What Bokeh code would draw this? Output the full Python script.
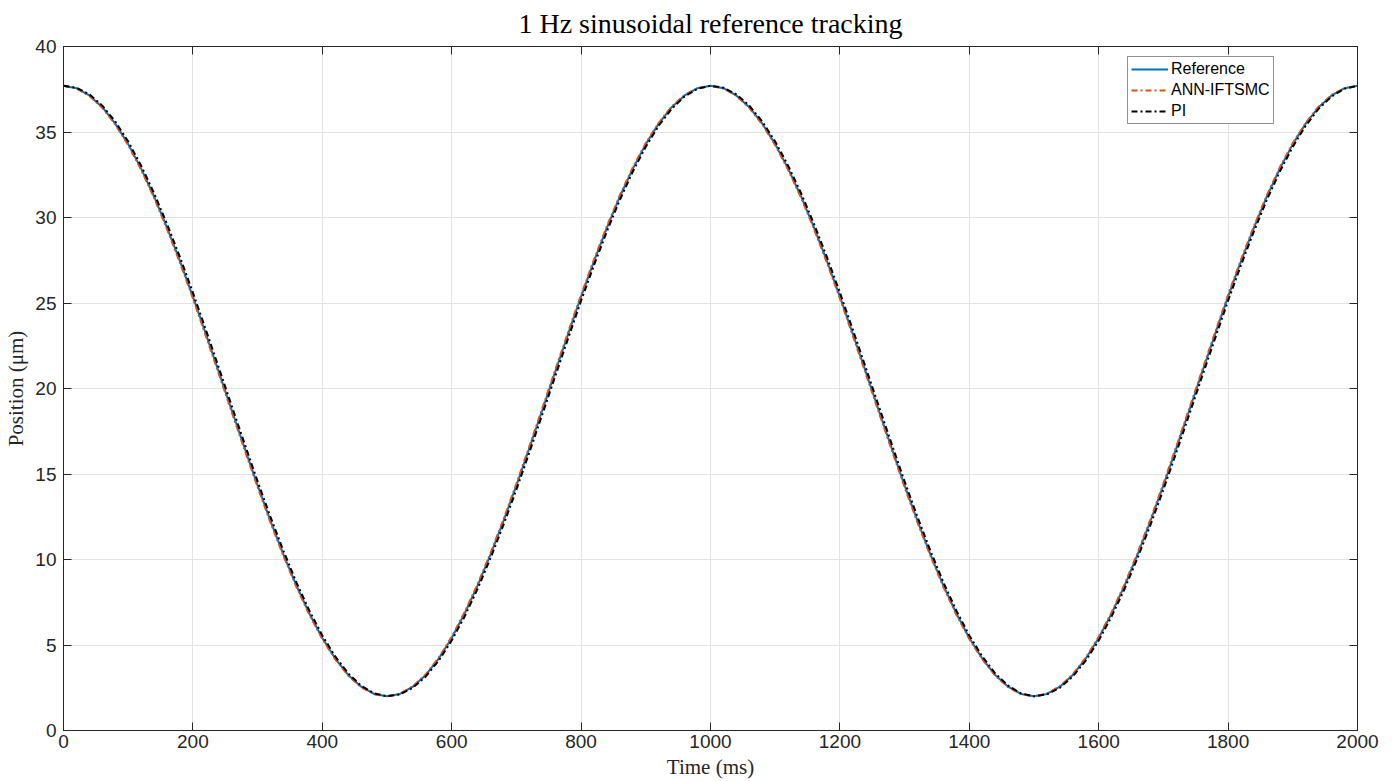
from bokeh.plotting import figure
from bokeh.models import (ColumnDataSource, Legend, LegendItem, LinearAxis,
                          SingleIntervalTicker, Range1d)
from bokeh.embed import file_html
from bokeh.resources import INLINE

# ---------------- data ----------------
time_ms = list(range(0, 2001, 20))

ref_period = [37.70, 37.56, 37.14, 36.45, 35.49, 34.29, 32.86, 31.23, 29.41, 27.45,
              25.37, 23.19, 20.97, 18.73, 16.51, 14.33, 12.25, 10.29, 8.47, 6.84,
              5.41, 4.21, 3.25, 2.56, 2.14, 2.00, 2.14, 2.56, 3.25, 4.21,
              5.41, 6.84, 8.47, 10.29, 12.25, 14.33, 16.51, 18.73, 20.97, 23.19,
              25.37, 27.45, 29.41, 31.23, 32.86, 34.29, 35.49, 36.45, 37.14, 37.56]
reference = ref_period + ref_period + [37.70]

ann_period = [37.70, 37.55, 37.11, 36.41, 35.44, 34.23, 32.79, 31.15, 29.32, 27.35,
              25.27, 23.08, 20.86, 18.62, 16.40, 14.23, 12.15, 10.20, 8.39, 6.77,
              5.35, 4.16, 3.21, 2.53, 2.13, 2.00, 2.15, 2.59, 3.29, 4.26,
              5.48, 6.92, 8.56, 10.38, 12.35, 14.44, 16.62, 18.84, 21.08, 23.30,
              25.48, 27.55, 29.50, 31.32, 32.94, 34.36, 35.54, 36.49, 37.17, 37.57]
ann_iftsmc = ann_period + ann_period + [37.70]

pi_period = [37.70, 37.59, 37.20, 36.54, 35.61, 34.44, 33.03, 31.42, 29.62, 27.68,
             25.61, 23.44, 21.22, 18.98, 16.76, 14.57, 12.48, 10.50, 8.66, 7.01,
             5.56, 4.33, 3.34, 2.62, 2.17, 2.00, 2.11, 2.50, 3.16, 4.09,
             5.26, 6.67, 8.28, 10.08, 12.02, 14.09, 16.26, 18.48, 20.72, 22.94,
             25.13, 27.22, 29.20, 31.04, 32.69, 34.14, 35.37, 36.36, 37.08, 37.53]
pi_ctrl = pi_period + pi_period + [37.70]

series_names = ["Reference", "ANN-IFTSMC", "PI"]
title_text = "1 Hz sinusoidal reference tracking"
x_label = "Time (ms)"
y_label = "Position (\u03bcm)"

# ---------------- figure ----------------
SERIF = "Liberation Serif"
SANS = "Liberation Sans"
AX = "#262626"

p = figure(width=1392, height=781, output_backend="svg", toolbar_location=None,
           x_range=Range1d(0, 2000), y_range=Range1d(0, 40),
           min_border_left=63, min_border_right=35, min_border_top=46,
           min_border_bottom=51, title=title_text)
p.title.text_font = SERIF
p.title.text_font_size = "28px"
p.title.text_font_style = "normal"
p.title.align = "center"
p.title.vertical_align = "top"
p.title.text_color = "black"
p.title.standoff = 12

p.outline_line_color = AX
p.outline_line_width = 1
p.background_fill_color = "white"
p.border_fill_color = "white"

xt = SingleIntervalTicker(interval=200, num_minor_ticks=0)
yt = SingleIntervalTicker(interval=5, num_minor_ticks=0)
p.xaxis.ticker = xt
p.yaxis.ticker = yt
for ax in (p.xaxis[0], p.yaxis[0]):
    ax.major_tick_in = 8
    ax.major_tick_out = 0
    ax.minor_tick_line_color = None
    ax.axis_line_color = AX
    ax.major_tick_line_color = AX
    ax.major_label_text_font = SANS
    ax.major_label_text_font_size = "19px"
    ax.major_label_text_color = AX
    ax.axis_label_text_font = SERIF
    ax.axis_label_text_font_size = "21px"
    ax.axis_label_text_font_style = "normal"
    ax.axis_label_text_color = AX
p.xaxis.major_label_standoff = 4
p.yaxis.major_label_standoff = 7
p.xaxis.axis_label = x_label
p.yaxis.axis_label = y_label
p.xaxis.axis_label_standoff = 4
p.yaxis.axis_label_standoff = 4

for loc, tk in (("above", xt), ("right", yt)):
    a = LinearAxis(ticker=tk, major_tick_in=8, major_tick_out=0,
                   minor_tick_line_color=None, axis_line_color=AX,
                   major_tick_line_color=AX, major_label_text_font_size="0px",
                   major_label_standoff=0, major_label_text_color=None)
    p.add_layout(a, loc)

p.xgrid.ticker = xt
p.ygrid.ticker = yt
p.grid.grid_line_color = "#e3e3e3"
p.grid.grid_line_width = 1

src = ColumnDataSource(dict(t=time_ms, ref=reference, ann=ann_iftsmc, pi=pi_ctrl))
r1 = p.line("t", "ref", source=src, line_color="#0072BD", line_width=2)
r2 = p.line("t", "ann", source=src, line_color="#D95319", line_width=2,
            line_dash="6 3 2 3")
r3 = p.line("t", "pi", source=src, line_color="black", line_width=2,
            line_dash="6 3 2 3")

legend = Legend(items=[LegendItem(label=series_names[0], renderers=[r1]),
                       LegendItem(label=series_names[1], renderers=[r2]),
                       LegendItem(label=series_names[2], renderers=[r3])],
                location=(1064, 606), orientation="vertical")
legend.label_text_font = SANS
legend.label_text_font_size = "16px"
legend.label_text_color = "black"
legend.glyph_width = 37
legend.glyph_height = 18
legend.label_standoff = 3
legend.spacing = 3
legend.padding = 3
legend.margin = 0
legend.border_line_color = AX
legend.border_line_width = 1
legend.background_fill_alpha = 1
p.add_layout(legend, "center")

open("out.html", "w").write(file_html(p, INLINE))
